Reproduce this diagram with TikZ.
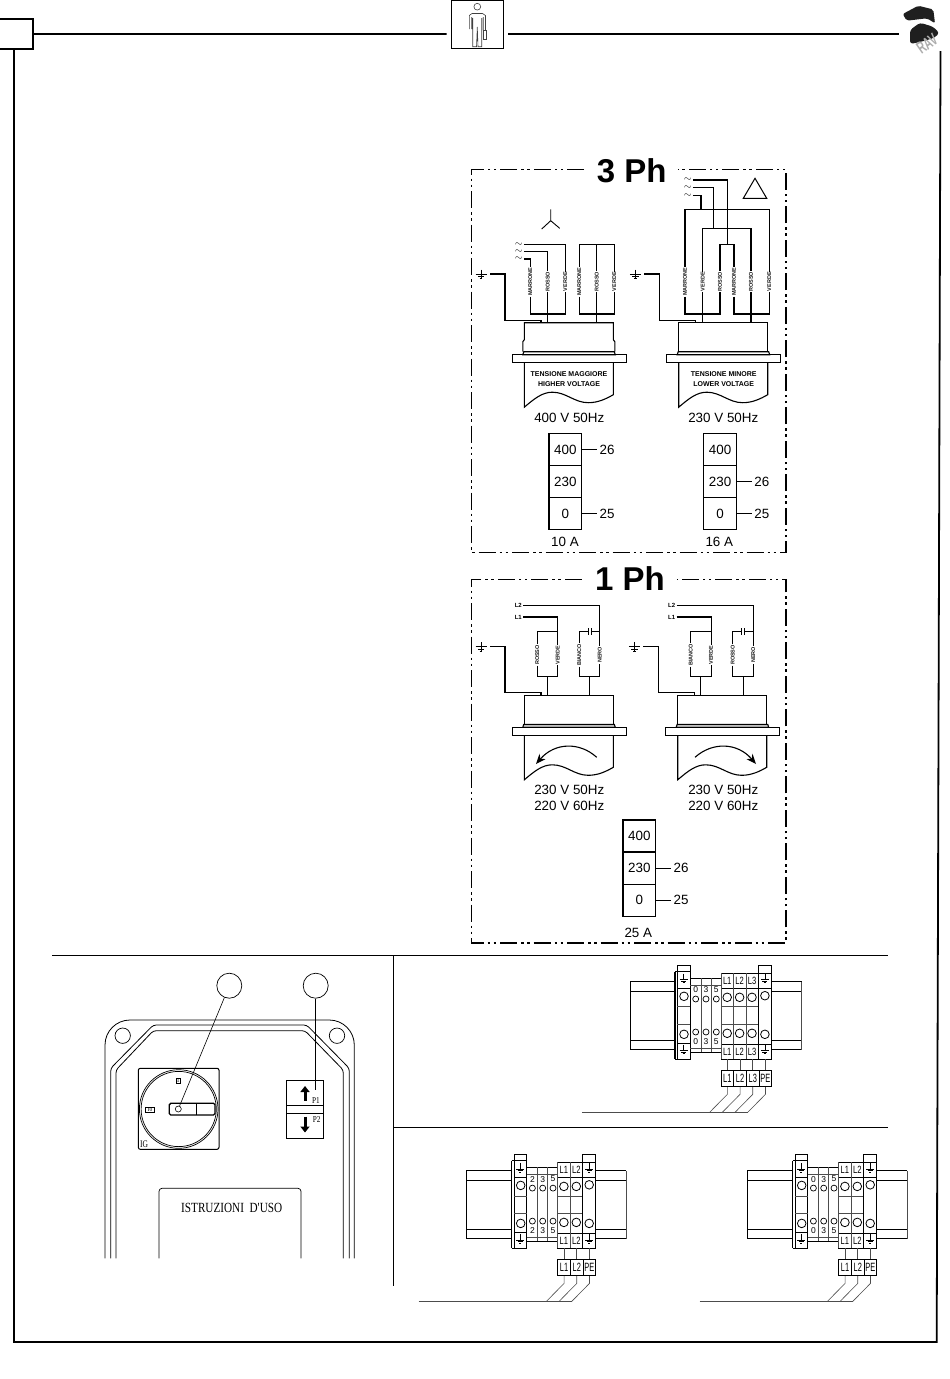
\documentclass[tikz,border=0pt]{standalone}
\usepackage{fontspec}
\setmainfont{Liberation Sans}
\newfontfamily\panelfont{Liberation Serif}
\usetikzlibrary{positioning, arrows.meta}

\newcommand{\fs}[1]{\fontsize{#1}{#1}\selectfont}
\newcommand{\nrw}[2]{\scalebox{#1}[1]{#2}}

\tikzset{
  frameline/.style={line width=1.8pt},
  dashframe/.style={line width=1.3pt, dash pattern=on 17pt off 4pt on 2.5pt off 3.5pt on 2.5pt off 4pt},
  wire/.style={line width=1.1pt},
  thinw/.style={line width=.6pt, black!70},
  rail/.style={line width=1pt},
  core/.style={rotate=90, inner sep=.5pt, font=\fs{5.5}\bfseries, text=black!90},
  mains/.style={inner sep=1pt, font=\fs{10}},
  lineid/.style={inner sep=1.2pt, font=\fs{6}\bfseries},
  volt/.style={draw, line width=1.15pt, outer sep=0pt, minimum width=32.5pt, minimum height=32.1pt, inner sep=0pt, font=\fs{13.4}},
  lead/.style={inner sep=2.3pt, font=\fs{13.4}},
  capt/.style={inner sep=0pt, font=\fs{13.4}},
  plate/.style={inner sep=0pt, font=\fs{7}\bfseries},
  title/.style={inner sep=0pt, font=\fs{33}\bfseries},
  tbox/.style={draw, line width=.8pt, minimum width=12.7pt, minimum height=16.7pt, inner sep=0pt, font=\fs{12}},
  tmark/.style={inner sep=0pt, font=\fs{8.5}},
  lmark/.style={inner sep=0pt, font=\fs{10.5}},
  callout/.style={draw, circle, line width=.7pt, minimum size=25pt, inner sep=0pt},
  gnd/.pic={
    \draw[line width=.9pt] (0,-4.5) -- (0,4.5) (-5.5,0) -- (5.5,0) (-3.2,2.4) -- (3.2,2.4) (-1.3,4.5) -- (1.3,4.5);
  },
  minignd/.pic={
    \draw[line width=.6pt] (0,-4) -- (0,2) (-4,2) -- (4,2) (-2.5,3.6) -- (2.5,3.6) (-1,5) -- (1,5);
  }
}

% motor with its earth lead, origin on the flange
\newcommand{\motor}[5]{
\begin{scope}[shift={(#2,#3)}]
\draw[wire] (12-#4,-3) -- (12-#4,-13) -- (12,-15) -- (12,-32) -- (101,-32) -- (101,-15) -- (101+#4,-13) -- (101+#4,-3);
\draw[wire, fill=#5] (10.5,0) -- (11.5,-3) -- (102,-3) -- (103,0) -- cycle;
\draw[wire] (0,0) rectangle (114,8);
\draw[wire] (12,8) -- (12,52.5) .. controls (22,44) and (30,37.5) .. (40,37.5)
  .. controls (54,37.5) and (62,48) .. (76,48) .. controls (86,48) and (94,44) .. (101,40) -- (101,8);
\pic at (-31.3,-80.7) {gnd};
\coordinate (#1ga) at (-22.3,-80.7);
\coordinate (#1gb) at (28.7,-32);
\draw[wire] (#1ga) -- (-7.3,-80.7) -- (-7.3,-34.4) -- (28.7,-34.4) -- (#1gb);
\end{scope}
}

% 400 230 0 stack
\newcommand{\voltstack}[3]{
\node[volt] (#1h) at (#2,#3) {400};
\node[volt, below=0pt of #1h] (#1m) {230};
\node[volt, below=0pt of #1m] (#1l) {0};
}

% single phase wiring
\newcommand{\onephase}[4]{
\begin{scope}[shift={(#1,0)}]
\node[lineid] (#2ltwo) at (518.3,605.3) {L2};
\node[lineid] (#2lone) at (518.3,617) {L1};
\node[core] (#2a) at (537.3,655) {#3};
\node[core] (#2b) at (557.7,655) {VERDE};
\node[core] (#2c) at (579.3,655) {#4};
\node[core] (#2d) at (599.7,655) {NERO};
\coordinate (#2ja) at (557.7,631.3);
\coordinate (#2jb) at (599.7,631.3);
\coordinate (#2ca) at (588.5,631.3);
\coordinate (#2cb) at (591.5,631.3);
\coordinate (#2pa) at (547.3,676.7);
\coordinate (#2pb) at (589.7,676.7);
\coordinate (#2qa) at (547.3,695.3);
\coordinate (#2qb) at (589.7,695.3);
\draw[wire] (#2ltwo) -| (#2d);
\draw[wire] (#2lone) -| (#2b);
\draw[wire] (#2ja) -| (#2a);
\draw[wire] (#2a) |- (#2pa) -| (#2b);
\draw[wire] (#2c) |- (#2pb) -| (#2d);
\draw[wire] (#2pa) -- (#2qa);
\draw[wire] (#2pb) -- (#2qb);
\draw[wire] (#2c) |- (#2ca);
\draw[wire] (#2cb) -- (#2jb);
\draw[line width=.9pt] (588.5,628) -- (588.5,634.6) (591.5,628) -- (591.5,634.6);
\end{scope}
}

% terminal strip: name, x, y, first mark, line names, poles
\newcommand{\termstrip}[6]{
\begin{scope}[shift={(#2,#3)}]
\pgfmathsetmacro\rbx{46+12.4*#6}
\pgfmathsetmacro\rex{\rbx+13.4}
\pgfmathsetmacro\rox{\rex+30}
\pgfmathsetmacro\rcx{\rbx+6.7}
\draw[rail] (0,16) -- (-45,16) -- (-45,84) -- (0,84) (0,26) -- (-45,26) (0,74.3) -- (-45,74.3);
\draw[rail] (\rex,16) -- (\rox,16) (\rex,84) -- (\rox,84) (\rex,26) -- (\rox,26) (\rex,74.3) -- (\rox,74.3);
\draw[thinw] (\rox,16) -- (\rox,84);
% left earth block
\draw[line width=1.5pt] (0,6) -- (0,93.3);
\draw[rail] (2.3,0) rectangle (15,93.3);
\draw[rail] (2.3,6) -- (15,6) (2.3,22.3) -- (15,22.3) (2.3,77.6) -- (15,77.6) (0,93.3) -- (2.3,93.3) (0,6) -- (2.3,6);
\pic at (8.5,12) {minignd};
\pic at (8.5,83) {minignd};
\draw[line width=.8pt] (9,30.6) circle (4.3) (9,68.6) circle (4.3);
\draw[thinw] (2.3,41) -- (15,41) (2.3,58.3) -- (15,58.3);
% small terminals
\draw[rail] (15,12.6) -- (46,12.6) (15,86.6) -- (46,86.6);
\draw[thinw] (15,19.3) -- (46,19.3) (15,82.6) -- (46,82.6);
\draw[thinw] (26,12.6) -- (26,86.6) (36,12.6) -- (36,86.6);
\foreach \mk [count=\k from 0] in {#4,3,5}{
  \node[tmark] (#1mt\k) at (20.7+10.3*\k,24.3) {\mk};
  \node[tmark] (#1mb\k) at (20.7+10.3*\k,75.6) {\mk};
  \draw[line width=.7pt] (20.7+10.3*\k,33.3) circle (3) (20.7+10.3*\k,66.3) circle (3);
}
% line terminals
\draw[rail] (46,7.6) rectangle (\rbx,93.3);
\draw[rail] (46,22.6) -- (\rbx,22.6) (46,78.6) -- (\rbx,78.6);
\foreach \nam [count=\k from 0] in {#5}{
  \node[lmark] (#1lt\k) at (52.2+12.4*\k,15) {\nrw{.72}{\nam}};
  \node[lmark] (#1lb\k) at (52.2+12.4*\k,86) {\nrw{.72}{\nam}};
  \draw[line width=.8pt] (52.2+12.4*\k,31.6) circle (4.3) (52.2+12.4*\k,67.6) circle (4.3);
  \draw[thinw] (46+12.4*\k,7.6) -- (46+12.4*\k,93.3);
}
\draw[thinw] (46,41) -- (\rbx,41) (46,58.3) -- (\rbx,58.3);
% right earth block
\draw[rail] (\rbx,0) rectangle (\rex,93.3);
\draw[rail] (\rbx,7.6) -- (\rex,7.6) (\rbx,22.3) -- (\rex,22.3) (\rbx,78.6) -- (\rex,78.6);
\pic at (\rcx,12) {minignd};
\pic at (\rcx,83) {minignd};
\draw[line width=.8pt] (\rcx,30) circle (4.3) (\rcx,68.6) circle (4.3);
% outgoing wires
\foreach \nam [count=\k from 0] in {#5,PE}{
  \coordinate (#1t\k) at (52.35+12.7*\k,93.3);
  \node[tbox] (#1w\k) at (52.35+12.7*\k,112.6) {\nrw{.62}{\nam}};
  \coordinate (#1e\k) at (34.65+12.7*\k,146.6);
  \draw[thinw] (#1t\k) -- (#1w\k);
  \draw[thinw] (#1w\k) -- ++(0,16) -- (#1e\k);
}
\coordinate (#1base) at (-93.2,146.6);
\draw[thinw] (#1base) -- (#1e#6);
\end{scope}
}

\begin{document}
\begin{tikzpicture}[x=1pt, y=-1pt]
\useasboundingbox (0,0) rectangle (950,1379);

% page frame and header
\node[draw, frameline, minimum width=40pt, minimum height=29.7pt, inner sep=0pt] (tab) at (13,33.9) {};
\node[draw, line width=.7pt, minimum width=51.6pt, minimum height=48.3pt, inner sep=0pt] (icon) at (477.5,24.2) {};
\coordinate (hdra) at (446.7,34);
\coordinate (hdrb) at (508.3,34);
\coordinate (hdrend) at (899,34);
\draw[frameline] (tab) -- (hdra);
\draw[frameline] (hdrb) -- (hdrend);
\draw[frameline] (14,48.7) -- (14,1342) -- (936.7,1342) -- (940.5,51);
\draw[line width=1.5pt] (451.7,.5) -- (503.3,.5);
% man with the case
\draw[line width=.6pt, black!75] (477.3,6.7) circle (3.4)
  (469.3,29) -- (469.3,15.5) -- (472,13.5) -- (482.5,13.5) -- (485.5,15.5) -- (485.5,30)
  (471.7,29) -- (471.7,17) (483.2,30) -- (483.2,17)
  (472.7,18) -- (472.7,46.7) -- (476.5,46.7) -- (477.3,27) -- (478,46.7) -- (481.7,46.7) -- (481.7,18);
\draw[line width=.8pt, black!75] (483.2,30.5) rectangle (486.7,39.3);

% logo
\fill[black!88, rounded corners=2pt] (902.7,14) -- (918.3,5.7) -- (933.3,9.5) -- (935,23.3) -- (927,18.3) -- (906.7,20.7) -- cycle;
\fill[black!88, rounded corners=3pt] (910,44) -- (910,30) -- (920,22.7) -- (933,26.7) -- (939.5,33) -- (934,38) -- (920,42) -- cycle;
\node[rotate=35, inner sep=0pt, font=\fs{17}\bfseries, text=black!32] (logotext) at (927,43.5) {\nrw{.62}{RAV}};

% three phase group
\node[title] (tphase) at (631.7,171) {3 Ph};
\coordinate (tfa) at (584,169.5);
\coordinate (tfb) at (678,169.5);
\draw[dashframe] (tfa) -- (471.5,169.5) -- (471.5,552.3) -- (786,552.3) -- (786,169.5) -- (tfb);

\motor{ma}{512.3}{354.7}{1.5}{white}
\motor{mb}{666.7}{354.7}{0}{white}

% star connection
\draw[line width=.9pt] (550.7,209.3) -- (550.7,220.7) -- (541.7,229) (550.7,220.7) -- (559.7,228.3);
\node[mains] (sa) at (518.7,244.3) {$\sim$};
\node[mains] (sb) at (518.7,251.7) {$\sim$};
\node[mains] (sc) at (518.7,259) {$\sim$};
\node[core] (wma) at (530.3,281.7) {MARRONE};
\node[core] (wra) at (547.7,281.7) {ROSSO};
\node[core] (wva) at (565.3,281.7) {VERDE};
\node[core] (wmb) at (579.3,281.7) {MARRONE};
\node[core] (wrb) at (596.7,281.7) {ROSSO};
\node[core] (wvb) at (614.3,281.7) {VERDE};
\coordinate (bara) at (547.7,314);
\coordinate (barb) at (596.7,314);
\coordinate (topb) at (596.7,244.3);
\coordinate (enta) at (547.7,322.7);
\coordinate (entb) at (596.7,322.7);
\draw[wire] (sc) -| (wma);
\draw[wire] (sb) -| (wra);
\draw[wire] (sa) -| (wva);
\draw[wire] (wma) |- (bara) -| (wva);
\draw[wire] (wra) -- (enta);
\draw[wire] (wmb) |- (topb) -| (wvb);
\draw[wire] (wrb) -- (topb);
\draw[wire] (wmb) |- (barb) -| (wvb);
\draw[wire] (wrb) -- (entb);

% delta connection
\draw[line width=1pt] (743.3,198.3) -- (755,178.3) -- (766.7,198.3) -- cycle;
\node[mains] (sd) at (687.7,180) {$\sim$};
\node[mains] (se) at (687.7,187.7) {$\sim$};
\node[mains] (sf) at (687.7,195.7) {$\sim$};
\node[core] (wmc) at (685,281.7) {MARRONE};
\node[core] (wvc) at (702.7,281.7) {VERDE};
\node[core] (wrc) at (720,281.7) {ROSSO};
\node[core] (wmd) at (734,281.7) {MARRONE};
\node[core] (wrd) at (751,281.7) {ROSSO};
\node[core] (wvd) at (769.3,281.7) {VERDE};
\coordinate (xa) at (727.7,244.3);
\coordinate (xb) at (713.3,228.3);
\coordinate (xc) at (701,209.3);
\coordinate (barc) at (702.7,314);
\coordinate (bard) at (751,314);
\coordinate (entc) at (702.7,322.7);
\coordinate (entd) at (751,322.7);
\draw[wire] (sd) -| (xa);
\draw[wire] (se) -| (xb);
\draw[wire] (sf) -| (xc);
\draw[wire] (wrc) |- (xa) -| (wmd);
\draw[wire] (wvc) |- (xb) -| (wrd);
\draw[wire] (wmc) |- (xc) -| (wvd);
\draw[wire] (wmc) |- (barc) -| (wrc);
\draw[wire] (wmd) |- (bard) -| (wvd);
\draw[wire] (wvc) -- (entc);
\draw[wire] (wrd) -- (entd);

\node[plate] (ptop) at (569,373.7) {TENSIONE MAGGIORE};
\node[plate, below=5pt of ptop] (pbot) {HIGHER VOLTAGE};
\node[plate] (qtop) at (723.7,373.7) {TENSIONE MINORE};
\node[plate, below=5pt of qtop] (qbot) {LOWER VOLTAGE};
\node[capt] (vca) at (569.3,418.3) {400 V 50Hz};
\node[capt] (vcb) at (723.3,418.3) {230 V 50Hz};

\voltstack{ba}{565.3}{449.5}
\voltstack{bb}{720.1}{449.5}
\node[lead, right=15.6pt of bah] (baup) {26};
\node[lead, right=15.6pt of bal] (badn) {25};
\node[lead, right=15.6pt of bbm] (bbup) {26};
\node[lead, right=15.6pt of bbl] (bbdn) {25};
\draw[wire] (bah) -- (baup);
\draw[wire] (bal) -- (badn);
\draw[wire] (bbm) -- (bbup);
\draw[wire] (bbl) -- (bbdn);
\node[capt] (amba) at (565,542.3) {10 A};
\node[capt] (ambb) at (719.3,542.3) {16 A};

% single phase group
\node[title] (sphase) at (630,579) {1 Ph};
\coordinate (sfa) at (581.7,579.3);
\coordinate (sfb) at (676.7,579.3);
\draw[dashframe] (sfa) -- (471.5,579.3) -- (471.5,943) -- (786,943) -- (786,579.3) -- (sfb);

\motor{mc}{512.3}{727.3}{0}{black!25}
\motor{md}{665.7}{727.3}{0}{black!25}
\onephase{0}{pa}{ROSSO}{BIANCO}
\onephase{153.4}{pb}{BIANCO}{ROSSO}
\draw[line width=1.1pt, -{Stealth[length=10pt,width=8pt]}] (596.7,757.3) .. controls (580,742) and (555,742) .. (536,764);
\draw[line width=1.1pt, -{Stealth[length=10pt,width=8pt]}] (695,757.3) .. controls (712,742) and (737,742) .. (756,764);
\node[capt] (vcc) at (569.3,790) {230 V 50Hz};
\node[capt] (vcd) at (569.3,805.7) {220 V 60Hz};
\node[capt] (vce) at (723.3,790) {230 V 50Hz};
\node[capt] (vcf) at (723.3,805.7) {220 V 60Hz};

\voltstack{bc}{639.3}{836}
\node[lead, right=15.6pt of bcm] (bcup) {26};
\node[lead, right=15.6pt of bcl] (bcdn) {25};
\draw[wire] (bcm) -- (bcup);
\draw[wire] (bcl) -- (bcdn);
\node[capt] (ambc) at (638.3,932.7) {25 A};

% panel rules
\draw[line width=.9pt] (52,955.5) -- (888,955.5) (393.5,955.5) -- (393.5,1286) (393.5,1127) -- (888,1127);

% control box
\draw[line width=.8pt, rounded corners=25pt] (105,1258.3) |- (354.3,1020) -- (354.3,1258.3);
\draw[line width=.8pt, rounded corners=3pt] (110.7,1258.3) -- (110.7,1068.3) -- (153.3,1025) -- (306.7,1025) -- (349.3,1068.3) -- (349.3,1258.3);
\draw[line width=.8pt, rounded corners=3pt] (116,1258.3) -- (116,1070) -- (153.3,1030.7) -- (305,1030.7) -- (343.3,1070) -- (343.3,1258.3);
\draw[line width=.7pt] (122.7,1035.7) circle (7.7) (337,1035.7) circle (7.7);
\draw[line width=1pt, rounded corners=2pt] (138.3,1068.3) rectangle (219,1149.3);
\draw[line width=.7pt] (178.7,1109) circle (39.3) (178.7,1109) circle (37.6);
\draw[line width=1.3pt, fill=white, rounded corners=1.5pt] (169.3,1103.3) rectangle (215,1115);
\draw[line width=.6pt] (196.7,1103.3) -- (196.7,1115);
\node[draw, line width=.6pt, inner sep=.8pt, font=\panelfont\fs{6}] (dialon) at (178.2,1081) {1};
\node[draw, line width=.6pt, inner sep=.5pt, minimum width=9.5pt, minimum height=5.5pt, font=\panelfont\fs{5.5}] (dialoff) at (150,1109.6) {I0};
\node[inner sep=0pt, font=\panelfont\fs{10}] (dialname) at (144,1144) {\nrw{.75}{IG}};
\node[callout] (cone) at (229.3,985.7) {};
\node[callout] (ctwo) at (315.7,985.7) {};
\node[draw, circle, line width=.6pt, minimum size=6pt, inner sep=0pt] (knob) at (178.3,1109) {};
\coordinate (pushup) at (315.7,1090);
\draw[line width=.6pt] (cone) -- (knob);
\draw[line width=.6pt] (ctwo) -- (pushup);
\draw[line width=.8pt] (286.7,1080) rectangle (323.3,1138.3) (286.7,1105.7) -- (323.3,1105.7) (286.7,1113.3) -- (323.3,1113.3);
\draw[line width=3pt, -{Triangle[length=6pt,width=9pt]}] (305,1100.5) -- (305,1086);
\draw[line width=3pt, -{Triangle[length=6pt,width=9pt]}] (305,1116.5) -- (305,1132.5);
\node[inner sep=0pt, font=\panelfont\fs{9}] (pone) at (316,1100.7) {\nrw{.8}{P1}};
\node[inner sep=0pt, font=\panelfont\fs{9}] (ptwo) at (316.7,1119.3) {\nrw{.8}{P2}};
\draw[line width=.7pt, rounded corners=3pt] (159,1258.3) -- (159,1188.3) -- (301,1188.3) -- (301,1258.3);
\node[inner sep=0pt, font=\panelfont\fs{14}] (uso) at (231.7,1208.3) {\nrw{.8}{ISTRUZIONI~~D'USO}};

% terminal strips
\termstrip{tsa}{675}{965.7}{0}{L1,L2,L3}{3}
\termstrip{tsb}{511.7}{1154.8}{2}{L1,L2}{2}
\termstrip{tsc}{792.7}{1154.8}{0}{L1,L2}{2}
\end{tikzpicture}
\end{document}
